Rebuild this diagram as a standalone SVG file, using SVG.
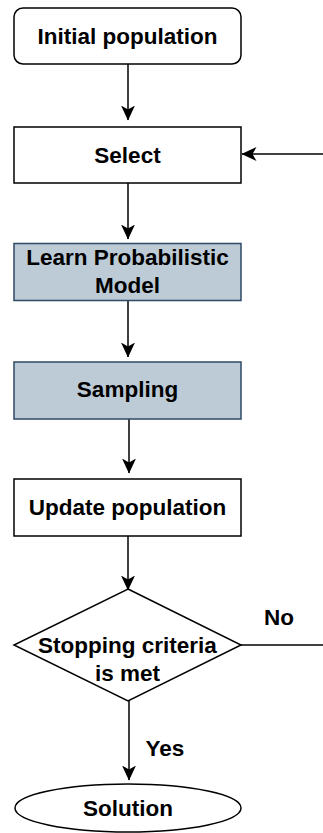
<svg xmlns="http://www.w3.org/2000/svg" width="323" height="833" viewBox="0 0 323 833">
  <defs>
    <marker id="arrow" viewBox="0 0 15 14" refX="14.5" refY="7" markerWidth="15" markerHeight="14" markerUnits="userSpaceOnUse" orient="auto">
      <path d="M0,0 L15,7 L0,14 L4,7 Z" fill="#000"/>
    </marker>
    <style>
      .box { fill: #fff; stroke: #000; stroke-width: 1.5; }
      .model { fill: #bccbd6; stroke: #2e4a66; stroke-width: 1.5; }
      .lbl { font-family: "Liberation Sans", Arial, sans-serif; font-weight: bold; font-size: 22.5px; fill: #000; text-anchor: middle; dominant-baseline: central; }
      .edge { fill: none; stroke: #000; stroke-width: 1.5; }
    </style>
  </defs>
  <rect width="323" height="833" fill="#fff"/>

  <g id="connectors">
    <line class="edge" x1="128" y1="64" x2="128" y2="120" marker-end="url(#arrow)"/>
    <line class="edge" x1="323" y1="154" x2="242" y2="154" marker-end="url(#arrow)"/>
    <line class="edge" x1="128" y1="183" x2="128" y2="239" marker-end="url(#arrow)"/>
    <line class="edge" x1="128" y1="301" x2="128" y2="357" marker-end="url(#arrow)"/>
    <line class="edge" x1="129" y1="419" x2="129" y2="473" marker-end="url(#arrow)"/>
    <line class="edge" x1="128" y1="536" x2="128" y2="590" marker-end="url(#arrow)"/>
    <line class="edge" x1="241" y1="645" x2="323" y2="645"/>
    <line class="edge" x1="129" y1="701" x2="129" y2="780" marker-end="url(#arrow)"/>
    <text class="lbl" x="279" y="617">No</text>
    <text class="lbl" x="165" y="748">Yes</text>
  </g>

  <g id="initial-population">
    <rect class="box" x="14" y="8" width="227" height="56" rx="9" ry="9"/>
    <text class="lbl" x="127.5" y="36">Initial population</text>
  </g>

  <g id="select">
    <rect class="box" x="14" y="127" width="227" height="56"/>
    <text class="lbl" x="127.5" y="155">Select</text>
  </g>

  <g id="learn-model">
    <rect class="model" x="14" y="243.5" width="227" height="57"/>
    <text class="lbl" x="127.5" y="257">Learn Probabilistic</text>
    <text class="lbl" x="127.5" y="285">Model</text>
  </g>

  <g id="sampling">
    <rect class="model" x="14" y="362" width="227" height="57"/>
    <text class="lbl" x="127.5" y="389">Sampling</text>
  </g>

  <g id="update-population">
    <rect class="box" x="14" y="479" width="227" height="57"/>
    <text class="lbl" x="127.5" y="507">Update population</text>
  </g>

  <g id="stopping-criteria">
    <polygon class="box" points="128,589 241,645 128,701 14,645"/>
    <text class="lbl" x="127.5" y="645">Stopping criteria</text>
    <text class="lbl" x="127.5" y="673">is met</text>
  </g>

  <g id="solution">
    <ellipse class="box" cx="128" cy="808" rx="113" ry="24"/>
    <text class="lbl" x="128" y="808">Solution</text>
  </g>
</svg>
